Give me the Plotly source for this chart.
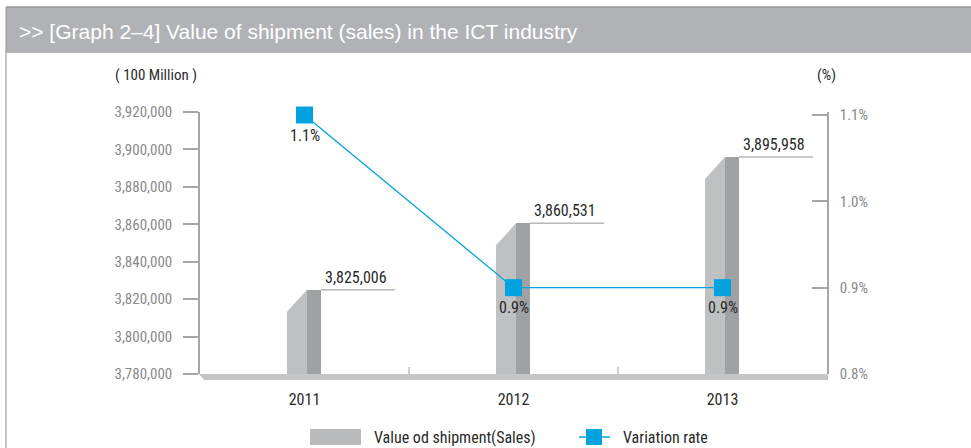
import plotly.graph_objects as go

# ---------------- data ----------------
years = ["2011", "2012", "2013"]
shipment = [3825006, 3860531, 3895958]
shipment_labels = ["3,825,006", "3,860,531", "3,895,958"]
variation = [1.1, 0.9, 0.9]
variation_labels = ["1.1%", "0.9%", "0.9%"]
left_ticks = [3780000, 3800000, 3820000, 3840000, 3860000, 3880000, 3900000, 3920000]
right_ticks = [0.8, 0.9, 1.0, 1.1]

# ---------------- style ----------------
W, H = 971, 448
L, R, T, B = 200, 144, 112, 74
FONT = "Liberation Sans Narrow, Roboto Condensed, Roboto, sans-serif"
TITLEFONT = "Liberation Sans, Arial, sans-serif"
LIGHT = "#bfc0c2"
DARK = "#a0a1a4"
FLOOR = "#c4c5c7"
AXIS = "#a6a6a6"
BLUE = "#00a3df"
TICKFONT = "#8a8a8a"
TEXT = "#2a2a2a"

xs = list(range(len(years)))
ymin, ymax = left_ticks[0], left_ticks[-1]
pw, ph = W - L - R, H - T - B
unit_px = pw / len(years)          # px per category
val_per_px = (ymax - ymin) / ph

side_l, side_r = -17.5 / unit_px, 2.5 / unit_px
front_r = 16.5 / unit_px
bevel = 22 * val_per_px

def px(x):
    return (x - L) / pw

def py(y):
    return (H - B - y) / ph

fig = go.Figure()

# side (light) face of each bar with bevelled top
for i, v in zip(xs, shipment):
    fig.add_trace(go.Scatter(
        x=[i + side_l, i + side_l, i + side_r, i + side_r, i + side_l],
        y=[ymin, v - bevel, v, ymin, ymin],
        fill="toself", fillcolor=LIGHT, mode="lines",
        line=dict(width=0, color=LIGHT), hoverinfo="skip", showlegend=False,
    ))

# front (dark) face
fig.add_trace(go.Bar(
    x=xs, y=[v - ymin for v in shipment], base=ymin,
    width=front_r - side_r, offset=side_r,
    marker=dict(color=DARK, line=dict(width=0)),
    showlegend=False, hoverinfo="skip",
))

# variation line
fig.add_trace(go.Scatter(
    x=xs, y=variation, yaxis="y2", mode="lines+markers",
    line=dict(color=BLUE, width=1.3),
    marker=dict(symbol="square", size=17, color=BLUE),
    showlegend=False, hoverinfo="skip", cliponaxis=False,
))

shapes = []
annotations = []

# variation labels
for i, v, lab in zip(xs, variation, variation_labels):
    annotations.append(dict(xref="x", yref="y2", x=i, y=v, text=lab, showarrow=False,
                            yanchor="middle", yshift=-20,
                            font=dict(family=FONT, size=16, color=TEXT)))

# value label lines and texts
for i, v, lab in zip(xs, shipment, shipment_labels):
    shapes.append(dict(type="line", xref="x", yref="y",
                       x0=i + front_r, x1=i + front_r + 74 / unit_px, y0=v, y1=v,
                       line=dict(color="#b8b8b8", width=1.5)))
    annotations.append(dict(xref="x", yref="y", x=i + front_r + 35 / unit_px, y=v,
                            text=lab, showarrow=False, yanchor="bottom", yshift=1,
                            font=dict(family=FONT, size=16, color=TEXT)))

# title bar
shapes.append(dict(type="rect", xref="paper", yref="paper",
                   x0=px(6), x1=px(W + 2), y0=py(53), y1=py(7),
                   fillcolor="#b1b2b6", line=dict(width=0), layer="below"))
shapes.append(dict(type="line", xref="paper", yref="paper",
                   x0=px(6), x1=px(W + 2), y0=py(7), y1=py(7),
                   line=dict(color="#97989b", width=1.5)))
# frame left border
shapes.append(dict(type="line", xref="paper", yref="paper",
                   x0=px(6), x1=px(6), y0=py(7), y1=py(H + 2),
                   line=dict(color="#a0a0a0", width=1.2)))
# floor
shapes.append(dict(type="path", xref="paper", yref="paper",
                   path=f"M {px(199)},{py(374)} L {px(828)},{py(374)} L {px(828)},{py(380)} L {px(204)},{py(380)} Z",
                   fillcolor=FLOOR, line=dict(width=0)))
# category separators on the floor
for sep in [0.5, 1.5]:
    shapes.append(dict(type="line", xref="x", yref="paper",
                       x0=sep, x1=sep, y0=0, y1=py(367),
                       line=dict(color="#9a9a9a", width=1)))

annotations.append(dict(xref="paper", yref="paper", x=px(17), y=py(31),
                        xanchor="left", yanchor="middle", showarrow=False,
                        text=">> [Graph 2\u20134] Value of shipment (sales) in the ICT industry",
                        font=dict(family=TITLEFONT, size=21, color="white")))
annotations.append(dict(xref="paper", yref="paper", x=px(113), y=py(75),
                        xanchor="left", yanchor="middle", showarrow=False,
                        text="( 100 Million )", font=dict(family=FONT, size=15, color=TEXT)))
annotations.append(dict(xref="paper", yref="paper", x=px(815), y=py(75),
                        xanchor="left", yanchor="middle", showarrow=False,
                        text="(%)", font=dict(family=FONT, size=15, color=TEXT)))

# legend (custom)
shapes.append(dict(type="rect", xref="paper", yref="paper",
                   x0=px(310), x1=px(361), y0=py(445), y1=py(429),
                   fillcolor="#b9babc", line=dict(width=0)))
annotations.append(dict(xref="paper", yref="paper", x=px(372), y=py(437),
                        xanchor="left", yanchor="middle", showarrow=False,
                        text="Value od shipment(Sales)", font=dict(family=FONT, size=16, color=TEXT)))
shapes.append(dict(type="line", xref="paper", yref="paper",
                   x0=px(579), x1=px(610), y0=py(437), y1=py(437),
                   line=dict(color=BLUE, width=1.5)))
shapes.append(dict(type="rect", xref="paper", yref="paper",
                   x0=px(586), x1=px(602), y0=py(445), y1=py(429),
                   fillcolor=BLUE, line=dict(width=0)))
annotations.append(dict(xref="paper", yref="paper", x=px(621), y=py(437),
                        xanchor="left", yanchor="middle", showarrow=False,
                        text="Variation rate", font=dict(family=FONT, size=16, color=TEXT)))

r_top = right_ticks[0] + (right_ticks[-1] - right_ticks[0]) * ph / (374 - 115)

fig.update_layout(
    width=W, height=H,
    margin=dict(l=L, r=R, t=T, b=B, pad=0),
    paper_bgcolor="white", plot_bgcolor="white",
    showlegend=False,
    bargap=0,
    xaxis=dict(range=[-0.5, len(years) - 0.5], tickvals=xs, ticktext=years,
               showgrid=False, zeroline=False, showline=False, ticks="",
               ticklabelstandoff=14,
               tickfont=dict(family=FONT, size=16, color=TEXT), fixedrange=True),
    yaxis=dict(range=[ymin, ymax], tickvals=left_ticks,
               ticktext=[f"{t:,}" for t in left_ticks],
               showgrid=False, zeroline=False, showline=True, linecolor=AXIS, linewidth=1.5,
               ticks="outside", ticklen=15, tickcolor=AXIS, tickwidth=1.5,
               ticklabelstandoff=8,
               tickfont=dict(family=FONT, size=15, color=TICKFONT)),
    yaxis2=dict(range=[right_ticks[0], r_top], tickvals=right_ticks,
                ticktext=[f"{t:.1f}%" for t in right_ticks],
                overlaying="y", side="right",
                showgrid=False, zeroline=False, showline=True, linecolor=AXIS, linewidth=1.5,
                ticks="inside", ticklen=15, tickcolor=AXIS, tickwidth=1.5,
                ticklabelstandoff=8,
                tickfont=dict(family=FONT, size=15, color=TICKFONT)),
    shapes=shapes,
    annotations=annotations,
)

fig.write_html("out.html", config={"displayModeBar": False},
               post_script="document.body.style.margin='0';")
